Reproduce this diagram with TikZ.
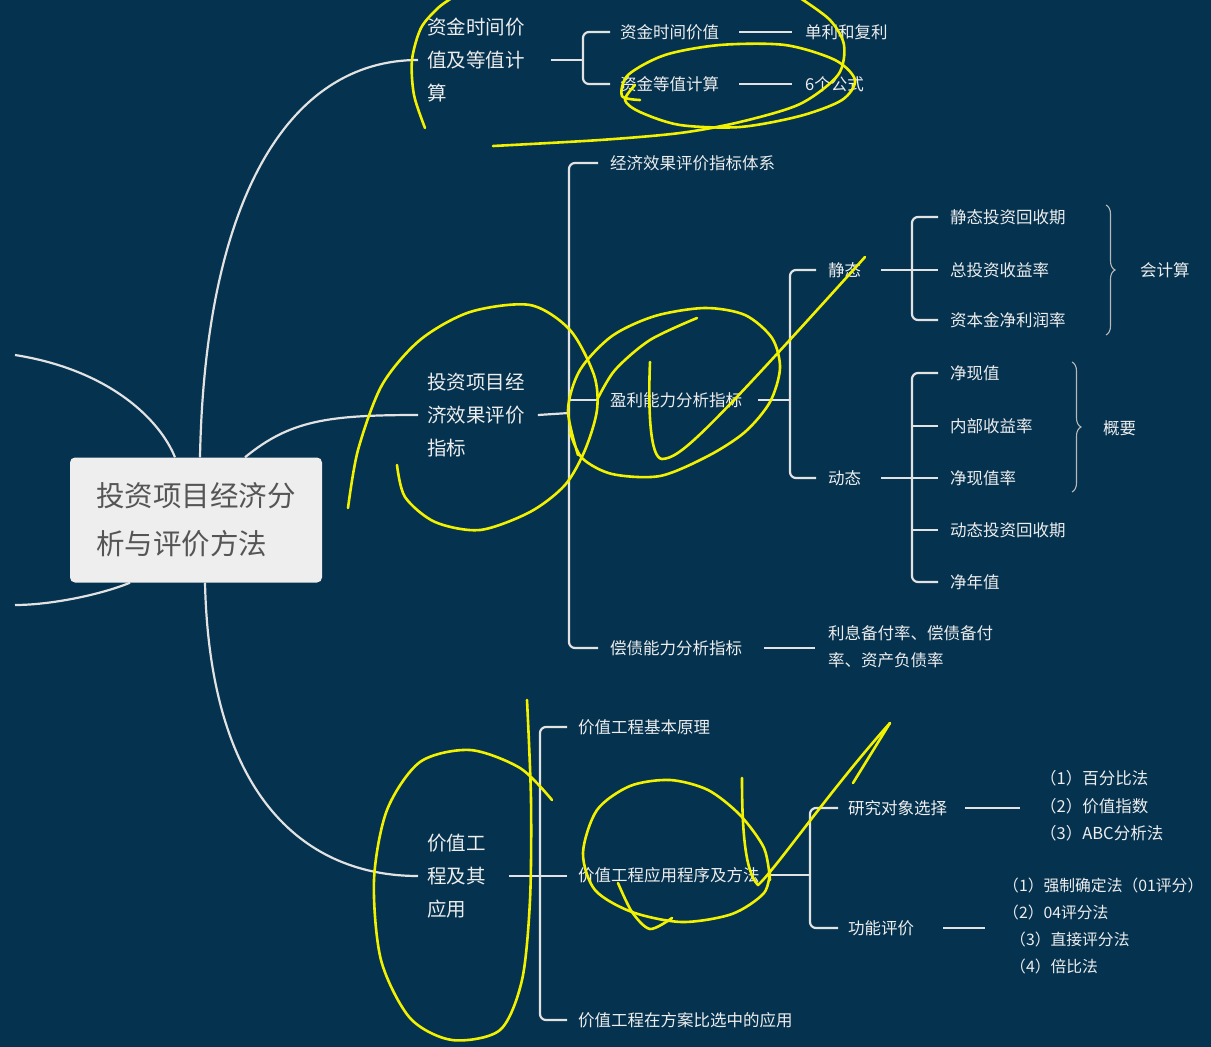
\documentclass[tikz,border=0pt]{standalone}
\usepackage{fontspec}
\setmainfont{Noto Sans CJK SC}
\usetikzlibrary{decorations.pathreplacing}
\definecolor{bg}{HTML}{04324F}
\definecolor{ln}{HTML}{E2E2E2}
\definecolor{tx}{HTML}{EDEDED}
\definecolor{hl}{HTML}{F2F200}
\definecolor{boxc}{HTML}{EEEEEE}
\definecolor{ctx}{HTML}{555555}
\definecolor{brc}{HTML}{B8B8B8}
\begin{document}
\begin{tikzpicture}[x=1pt,y=-1pt,
 conn/.style={draw=ln,line width=2.2pt,rounded corners=6pt},
 curve/.style={draw=ln,line width=2.2pt},
 lbl/.style={anchor=west,inner sep=0pt,text=tx,align=left,font=\fontsize{16.5}{20}\selectfont},
 blbl/.style={anchor=west,inner sep=0pt,text=tx,align=left,font=\fontsize{19.5}{33}\selectfont},
 brc/.style={draw=brc,line width=1.1pt,decorate,decoration={brace,amplitude=9pt}},
 hand/.style={draw=hl,line width=2.6pt,line cap=round,line join=round}]
\fill[bg] (0,0) rectangle (1211,1047);
\useasboundingbox (0,0) rectangle (1211,1047);

% root
\node[fill=boxc,rounded corners=5pt,minimum width=252pt,minimum height=125pt,text=ctx,align=left,inner sep=0pt,font=\fontsize{28.5}{48}\selectfont] (root) at (196,520) {投资项目经济分\\析与评价方法};

% branches
\node[blbl] (b1) at (427,60) {资金时间价\\值及等值计\\算};
\node[blbl] (b2) at (427,415) {投资项目经\\济效果评价\\指标};
\node[blbl] (b3) at (427,876) {价值工\\程及其\\应用};

\coordinate (L1) at (15,355);
\coordinate (L2) at (15,605);
\draw[curve] ([xshift=4pt]root.north) .. controls +(5,-257) and +(-130,0) .. ([xshift=-9pt]b1.west);
\draw[curve] ([xshift=49pt]root.north) .. controls +(45,-37) and +(-90,0) .. ([xshift=-9pt]b2.west);
\draw[curve] ([xshift=9pt]root.south) .. controls +(5,218) and +(-110,0) .. ([xshift=-9pt]b3.west);
\draw[curve] (L1) .. controls (110,370) and (160,420) .. ([xshift=-21pt]root.north);
\draw[curve] ([xshift=-66pt]root.south) .. controls (100,595) and (50,605) .. (L2);

% branch 1
\node[lbl] (c11) at (620,32) {资金时间价值};
\node[lbl] (c12) at (620,84) {资金等值计算};
\node[lbl] (d11) at (805,32) {单利和复利};
\node[lbl] (d12) at (805,84) {6个公式};
\coordinate (s1) at (583,60);
\draw[conn] ([xshift=26pt]b1.east) -- (s1);
\draw[conn] ([xshift=-10pt]c11.west) -| (s1) |- ([xshift=-10pt]c12.west);
\draw[conn] ([xshift=20pt]c11.east) -- ([xshift=-13pt]d11.west |- c11.east);
\draw[conn] ([xshift=20pt]c12.east) -- ([xshift=-13pt]d12.west |- c12.east);

% branch 2
\node[lbl] (e1) at (610,163) {经济效果评价指标体系};
\node[lbl] (e2) at (610,400) {盈利能力分析指标};
\node[lbl] (e3) at (610,648) {偿债能力分析指标};
\coordinate (s2) at (569,413);
\draw[conn] ([xshift=13pt]b2.east) -- (s2);
\draw[conn] ([xshift=-12pt]e1.west) -| (s2) |- ([xshift=-12pt]e3.west);
\draw[conn] ([xshift=-12pt]e2.west) -- (e2.west -| s2);

\node[lbl] (f1) at (828,270) {静态};
\node[lbl] (f2) at (828,478) {动态};
\coordinate (s3) at (790,400);
\draw[conn] ([xshift=16pt]e2.east) -- (s3);
\draw[conn] ([xshift=-12pt]f1.west) -| (s3) |- ([xshift=-12pt]f2.west);

\node[lbl] (g1) at (950,217) {静态投资回收期};
\node[lbl] (g2) at (950,270) {总投资收益率};
\node[lbl] (g3) at (950,320) {资本金净利润率};
\coordinate (s4) at (912,270);
\draw[conn] ([xshift=20pt]f1.east) -- ([xshift=-12pt]g2.west |- f1.east);
\draw[conn] ([xshift=-12pt]g1.west) -| (s4) |- ([xshift=-12pt]g3.west);

\node[lbl] (h1) at (950,373) {净现值};
\node[lbl] (h2) at (950,426) {内部收益率};
\node[lbl] (h3) at (950,478) {净现值率};
\node[lbl] (h4) at (950,530) {动态投资回收期};
\node[lbl] (h5) at (950,582) {净年值};
\coordinate (s5) at (912,478);
\draw[conn] ([xshift=20pt]f2.east) -- ([xshift=-12pt]h3.west |- f2.east);
\draw[conn] ([xshift=-12pt]h1.west) -| (s5) |- ([xshift=-12pt]h5.west);
\draw[conn] ([xshift=-12pt]h2.west) -- (h2.west -| s5);
\draw[conn] ([xshift=-12pt]h4.west) -- (h4.west -| s5);

\coordinate (br1a) at (1106,205);
\coordinate (br1b) at (1106,335);
\coordinate (br2a) at (1072,362);
\coordinate (br2b) at (1072,492);
\draw[brc] (br1a) -- (br1b);
\draw[brc] (br2a) -- (br2b);
\node[lbl] (k1) at (1140,270) {会计算};
\node[lbl] (k2) at (1103,428) {概要};

\node[lbl,font=\fontsize{16.5}{27}\selectfont] (e3l) at (828,647) {利息备付率、偿债备付\\率、资产负债率};
\draw[conn] ([xshift=22pt]e3.east) -- ([xshift=-13pt]e3l.west |- e3.east);

% branch 3
\node[lbl] (i1) at (578,727) {价值工程基本原理};
\node[lbl] (i2) at (578,875) {价值工程应用程序及方法};
\node[lbl] (i3) at (578,1020) {价值工程在方案比选中的应用};
\coordinate (s6) at (540,876);
\draw[conn] ([xshift=23pt]b3.east) -- ([xshift=-11pt]i2.west |- b3.east);
\draw[conn] ([xshift=-11pt]i1.west) -| (s6) |- ([xshift=-11pt]i3.west);

\node[lbl] (j1) at (848,808) {研究对象选择};
\node[lbl] (j2) at (848,928) {功能评价};
\coordinate (s7) at (810,875);
\draw[conn] ([xshift=7pt]i2.east) -- (s7);
\draw[conn] ([xshift=-10pt]j1.west) -| (s7) |- ([xshift=-10pt]j2.west);

\node[lbl,font=\fontsize{16.5}{27.5}\selectfont] (l1) at (1040,806) {（1）百分比法\\（2）价值指数\\（3）ABC分析法};
\node[lbl,font=\fontsize{15.8}{26.7}\selectfont] (l2) at (1003,926) {（1）强制确定法（01评分）\\（2）04评分法\\\hspace{7pt}（3）直接评分法\\\hspace{7pt}（4）倍比法};
\draw[conn] ([xshift=18pt]j1.east) -- ([xshift=-20pt]l1.west |- j1.east);
\draw[conn] ([xshift=29pt]j2.east) -- ([xshift=-18pt]l2.west |- j2.east);

% handwritten yellow marks
\draw[hand] plot[smooth] coordinates {(425,128) (414,95) (412,60) (421,28) (438,8) (452,-2)};
\draw[hand] plot[smooth] coordinates {(800,-2) (830,20) (844,45) (838,75) (800,104) (740,122) (680,133) (600,140) (493,146)};
\draw[hand] plot[smooth] coordinates {(640,100) (622,96) (628,75) (665,55) (720,45) (785,45) (835,60) (855,80) (842,100) (800,116) (740,127) (680,125) (640,112) (625,100) (635,85)};
\draw[hand] plot[smooth] coordinates {(348,508) (358,450) (382,385) (420,340) (470,312) (530,305) (570,330) (594,375) (597,410) (585,450) (565,485) (530,512) (480,530) (435,522) (405,497) (397,465)};
\draw[hand] plot[smooth] coordinates {(597,400) (615,370) (650,340) (697,318)};
\draw[hand] plot[smooth] coordinates {(578,455) (568,410) (580,370) (612,336) (655,316) (705,308) (745,315) (772,338) (780,368) (770,402) (745,432) (708,456) (660,476) (612,474) (582,458) (570,432)};
\draw[hand] (650,362) .. controls (648,410) and (650,458) .. (662,459) .. controls (680,458) and (700,440) .. (865,257);
\draw[hand] plot[smooth] coordinates {(552,800) (520,768) (470,750) (420,762) (387,810) (374,880) (381,960) (410,1018) (452,1040) (500,1030) (522,980) (530,900) (531,800) (527,700)};
\draw[hand] plot[smooth] coordinates {(770,880) (764,848) (740,815) (708,790) (670,780) (630,786) (597,810) (583,853) (595,890) (632,912) (682,922) (732,914) (764,893) (770,870)};
\draw[hand] plot[smooth] coordinates {(618,883) (632,912) (650,929) (672,918)};
\draw[hand] (742,778) .. controls (742,830) and (745,872) .. (758,885) .. controls (775,870) and (830,790) .. (890,723);
\draw[hand] (853,783) -- (890,723);
\end{tikzpicture}
\end{document}
